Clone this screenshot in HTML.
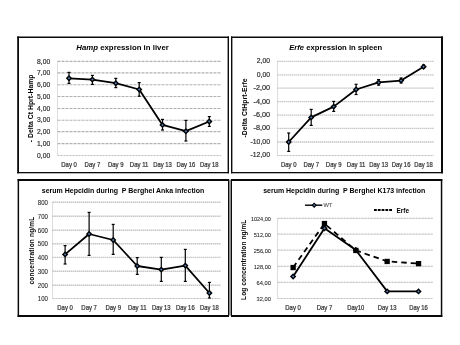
<!DOCTYPE html><html><head><meta charset="utf-8"><style>html,body{margin:0;padding:0;background:#fff;overflow:hidden}svg{display:block;will-change:transform}text{font-family:"Liberation Sans",sans-serif}</style></head><body>
<svg width="460" height="345" viewBox="0 0 460 345">
<rect width="460" height="345" fill="#fff"/>
<rect x="17.2" y="36.5" width="1.8" height="136.80" fill="#0a0a0a"/>
<rect x="227.6" y="36.5" width="1.4" height="136.80" fill="#0a0a0a"/>
<rect x="17.2" y="36.5" width="211.80" height="1.5" fill="#0a0a0a"/>
<rect x="17.2" y="172" width="211.80" height="1.3" fill="#0a0a0a"/>
<rect x="231" y="36.5" width="1.4" height="136.80" fill="#0a0a0a"/>
<rect x="441" y="36.5" width="2" height="136.80" fill="#0a0a0a"/>
<rect x="231" y="36.5" width="212.00" height="1.5" fill="#0a0a0a"/>
<rect x="231" y="172" width="212.00" height="1.3" fill="#0a0a0a"/>
<rect x="229" y="179.6" width="2" height="136" fill="#8e8e8e"/>
<rect x="17.6" y="179" width="1.5" height="138.00" fill="#0a0a0a"/>
<rect x="228" y="179" width="1" height="138.00" fill="#0a0a0a"/>
<rect x="17.6" y="179" width="211.40" height="2" fill="#0a0a0a"/>
<rect x="17.6" y="315" width="211.40" height="2" fill="#0a0a0a"/>
<rect x="231" y="179" width="1" height="138.00" fill="#0a0a0a"/>
<rect x="440.8" y="179" width="1.5" height="138.00" fill="#0a0a0a"/>
<rect x="231" y="179" width="211.30" height="2" fill="#0a0a0a"/>
<rect x="231" y="315" width="211.30" height="2" fill="#0a0a0a"/>
<line x1="57.5" y1="61.4" x2="221" y2="61.4" stroke="#b2b2b2" stroke-width="1.1" stroke-dasharray="3,1"/>
<line x1="57.5" y1="72.9" x2="221" y2="72.9" stroke="#b2b2b2" stroke-width="1.1" stroke-dasharray="3,1"/>
<line x1="57.5" y1="84.8" x2="221" y2="84.8" stroke="#b2b2b2" stroke-width="1.1" stroke-dasharray="3,1"/>
<line x1="57.5" y1="96.5" x2="221" y2="96.5" stroke="#b2b2b2" stroke-width="1.1" stroke-dasharray="3,1"/>
<line x1="57.5" y1="108.5" x2="221" y2="108.5" stroke="#b2b2b2" stroke-width="1.1" stroke-dasharray="3,1"/>
<line x1="57.5" y1="120.2" x2="221" y2="120.2" stroke="#b2b2b2" stroke-width="1.1" stroke-dasharray="3,1"/>
<line x1="57.5" y1="131.6" x2="221" y2="131.6" stroke="#b2b2b2" stroke-width="1.1" stroke-dasharray="3,1"/>
<line x1="57.5" y1="143.6" x2="221" y2="143.6" stroke="#b2b2b2" stroke-width="1.1" stroke-dasharray="3,1"/>
<line x1="57.5" y1="61.5" x2="57.5" y2="155.5" stroke="#bdbdbd" stroke-width="1" stroke-dasharray="1,1"/>
<line x1="57.5" y1="155.5" x2="221" y2="155.5" stroke="#bdbdbd" stroke-width="1" stroke-dasharray="2,1"/>
<text x="50.2" y="63.5" font-size="7" text-anchor="end" font-weight="normal" fill="#303030" stroke="#303030" stroke-width="0.2" textLength="13.1" lengthAdjust="spacingAndGlyphs" >8,00</text>
<text x="50.2" y="75.0" font-size="7" text-anchor="end" font-weight="normal" fill="#303030" stroke="#303030" stroke-width="0.2" textLength="13.1" lengthAdjust="spacingAndGlyphs" >7,00</text>
<text x="50.2" y="86.89999999999999" font-size="7" text-anchor="end" font-weight="normal" fill="#303030" stroke="#303030" stroke-width="0.2" textLength="13.1" lengthAdjust="spacingAndGlyphs" >6,00</text>
<text x="50.2" y="98.6" font-size="7" text-anchor="end" font-weight="normal" fill="#303030" stroke="#303030" stroke-width="0.2" textLength="13.1" lengthAdjust="spacingAndGlyphs" >5,00</text>
<text x="50.2" y="110.6" font-size="7" text-anchor="end" font-weight="normal" fill="#303030" stroke="#303030" stroke-width="0.2" textLength="13.1" lengthAdjust="spacingAndGlyphs" >4,00</text>
<text x="50.2" y="122.3" font-size="7" text-anchor="end" font-weight="normal" fill="#303030" stroke="#303030" stroke-width="0.2" textLength="13.1" lengthAdjust="spacingAndGlyphs" >3,00</text>
<text x="50.2" y="133.7" font-size="7" text-anchor="end" font-weight="normal" fill="#303030" stroke="#303030" stroke-width="0.2" textLength="13.1" lengthAdjust="spacingAndGlyphs" >2,00</text>
<text x="50.2" y="145.7" font-size="7" text-anchor="end" font-weight="normal" fill="#303030" stroke="#303030" stroke-width="0.2" textLength="13.1" lengthAdjust="spacingAndGlyphs" >1,00</text>
<text x="50.2" y="157.7" font-size="7" text-anchor="end" font-weight="normal" fill="#303030" stroke="#303030" stroke-width="0.2" textLength="13.1" lengthAdjust="spacingAndGlyphs" >0,00</text>
<text x="69.05" y="167" font-size="6.3" text-anchor="middle" font-weight="normal" fill="#303030" stroke="#303030" stroke-width="0.2" textLength="15.6" lengthAdjust="spacingAndGlyphs" >Day 0</text>
<text x="92.42" y="167" font-size="6.3" text-anchor="middle" font-weight="normal" fill="#303030" stroke="#303030" stroke-width="0.2" textLength="15.6" lengthAdjust="spacingAndGlyphs" >Day 7</text>
<text x="115.78999999999999" y="167" font-size="6.3" text-anchor="middle" font-weight="normal" fill="#303030" stroke="#303030" stroke-width="0.2" textLength="15.6" lengthAdjust="spacingAndGlyphs" >Day 9</text>
<text x="139.16" y="167" font-size="6.3" text-anchor="middle" font-weight="normal" fill="#303030" stroke="#303030" stroke-width="0.2" textLength="18.6" lengthAdjust="spacingAndGlyphs" >Day 11</text>
<text x="162.53" y="167" font-size="6.3" text-anchor="middle" font-weight="normal" fill="#303030" stroke="#303030" stroke-width="0.2" textLength="18.6" lengthAdjust="spacingAndGlyphs" >Day 13</text>
<text x="185.9" y="167" font-size="6.3" text-anchor="middle" font-weight="normal" fill="#303030" stroke="#303030" stroke-width="0.2" textLength="18.6" lengthAdjust="spacingAndGlyphs" >Day 16</text>
<text x="209.26999999999998" y="167" font-size="6.3" text-anchor="middle" font-weight="normal" fill="#303030" stroke="#303030" stroke-width="0.2" textLength="18.6" lengthAdjust="spacingAndGlyphs" >Day 18</text>
<line x1="69.0" y1="72.4" x2="69.0" y2="83.4" stroke="#000" stroke-width="1.2"/>
<line x1="67.5" y1="72.4" x2="70.5" y2="72.4" stroke="#000" stroke-width="1.2"/>
<line x1="67.5" y1="83.4" x2="70.5" y2="83.4" stroke="#000" stroke-width="1.2"/>
<line x1="92.4" y1="75.4" x2="92.4" y2="84.4" stroke="#000" stroke-width="1.2"/>
<line x1="90.9" y1="75.4" x2="93.9" y2="75.4" stroke="#000" stroke-width="1.2"/>
<line x1="90.9" y1="84.4" x2="93.9" y2="84.4" stroke="#000" stroke-width="1.2"/>
<line x1="115.8" y1="78.4" x2="115.8" y2="87.6" stroke="#000" stroke-width="1.2"/>
<line x1="114.3" y1="78.4" x2="117.3" y2="78.4" stroke="#000" stroke-width="1.2"/>
<line x1="114.3" y1="87.6" x2="117.3" y2="87.6" stroke="#000" stroke-width="1.2"/>
<line x1="139.2" y1="82.6" x2="139.2" y2="96.2" stroke="#000" stroke-width="1.2"/>
<line x1="137.7" y1="82.6" x2="140.7" y2="82.6" stroke="#000" stroke-width="1.2"/>
<line x1="137.7" y1="96.2" x2="140.7" y2="96.2" stroke="#000" stroke-width="1.2"/>
<line x1="162.5" y1="119.4" x2="162.5" y2="130" stroke="#000" stroke-width="1.2"/>
<line x1="161.0" y1="119.4" x2="164.0" y2="119.4" stroke="#000" stroke-width="1.2"/>
<line x1="161.0" y1="130" x2="164.0" y2="130" stroke="#000" stroke-width="1.2"/>
<line x1="185.9" y1="120.4" x2="185.9" y2="141" stroke="#000" stroke-width="1.2"/>
<line x1="184.4" y1="120.4" x2="187.4" y2="120.4" stroke="#000" stroke-width="1.2"/>
<line x1="184.4" y1="141" x2="187.4" y2="141" stroke="#000" stroke-width="1.2"/>
<line x1="209.3" y1="116.6" x2="209.3" y2="126.4" stroke="#000" stroke-width="1.2"/>
<line x1="207.8" y1="116.6" x2="210.8" y2="116.6" stroke="#000" stroke-width="1.2"/>
<line x1="207.8" y1="126.4" x2="210.8" y2="126.4" stroke="#000" stroke-width="1.2"/>
<polyline points="69.0,78.3 92.4,79.6 115.8,83.2 139.2,89.5 162.5,124.9 185.9,131.2 209.3,121.5" fill="none" stroke="#000" stroke-width="1.8" stroke-linejoin="round"/>
<path d="M65.8,78.3 L69.0,75.1 L72.2,78.3 L69.0,81.5 Z" fill="#000"/>
<path d="M67.8,78.3 L69.0,77.1 L70.2,78.3 L69.0,79.5 Z" fill="#4f81bd"/>
<path d="M89.2,79.6 L92.4,76.4 L95.6,79.6 L92.4,82.8 Z" fill="#000"/>
<path d="M91.2,79.6 L92.4,78.4 L93.6,79.6 L92.4,80.8 Z" fill="#4f81bd"/>
<path d="M112.6,83.2 L115.8,80.0 L119.0,83.2 L115.8,86.4 Z" fill="#000"/>
<path d="M114.6,83.2 L115.8,82.0 L117.0,83.2 L115.8,84.4 Z" fill="#4f81bd"/>
<path d="M136.0,89.5 L139.2,86.3 L142.4,89.5 L139.2,92.7 Z" fill="#000"/>
<path d="M138.0,89.5 L139.2,88.3 L140.4,89.5 L139.2,90.7 Z" fill="#4f81bd"/>
<path d="M159.3,124.9 L162.5,121.7 L165.7,124.9 L162.5,128.1 Z" fill="#000"/>
<path d="M161.3,124.9 L162.5,123.7 L163.7,124.9 L162.5,126.1 Z" fill="#4f81bd"/>
<path d="M182.7,131.2 L185.9,128.0 L189.1,131.2 L185.9,134.4 Z" fill="#000"/>
<path d="M184.7,131.2 L185.9,130.0 L187.1,131.2 L185.9,132.4 Z" fill="#4f81bd"/>
<path d="M206.1,121.5 L209.3,118.3 L212.5,121.5 L209.3,124.7 Z" fill="#000"/>
<path d="M208.1,121.5 L209.3,120.3 L210.5,121.5 L209.3,122.7 Z" fill="#4f81bd"/>
<text x="76.3" y="50" font-size="8.0" font-weight="bold" fill="#000" textLength="92.5" lengthAdjust="spacingAndGlyphs"><tspan font-style="italic">Hamp</tspan> expression in liver</text>
<text x="33.3" y="142.3" font-size="6.8" text-anchor="start" font-weight="bold" fill="#000" textLength="67.8" lengthAdjust="spacing" transform="rotate(-90 33.3 142.3)" >- Delta Ct Hprt-Hamp</text>
<line x1="277.5" y1="61.4" x2="434" y2="61.4" stroke="#c2c2c2" stroke-width="1.3" stroke-dasharray="1.4,0.6"/>
<line x1="277.5" y1="74.8" x2="434" y2="74.8" stroke="#c2c2c2" stroke-width="1.3" stroke-dasharray="1.4,0.6"/>
<line x1="277.5" y1="88.2" x2="434" y2="88.2" stroke="#c2c2c2" stroke-width="1.3" stroke-dasharray="1.4,0.6"/>
<line x1="277.5" y1="101.6" x2="434" y2="101.6" stroke="#c2c2c2" stroke-width="1.3" stroke-dasharray="1.4,0.6"/>
<line x1="277.5" y1="115.1" x2="434" y2="115.1" stroke="#c2c2c2" stroke-width="1.3" stroke-dasharray="1.4,0.6"/>
<line x1="277.5" y1="128.4" x2="434" y2="128.4" stroke="#c2c2c2" stroke-width="1.3" stroke-dasharray="1.4,0.6"/>
<line x1="277.5" y1="142" x2="434" y2="142" stroke="#c2c2c2" stroke-width="1.3" stroke-dasharray="1.4,0.6"/>
<line x1="277.5" y1="61.5" x2="277.5" y2="155.5" stroke="#bdbdbd" stroke-width="1" stroke-dasharray="1,1"/>
<line x1="277.5" y1="155.5" x2="434" y2="155.5" stroke="#bdbdbd" stroke-width="1" stroke-dasharray="2,1"/>
<text x="270" y="63.4" font-size="7" text-anchor="end" font-weight="normal" fill="#303030" stroke="#303030" stroke-width="0.2" textLength="13.2" lengthAdjust="spacingAndGlyphs" >2,00</text>
<text x="270" y="76.8" font-size="7" text-anchor="end" font-weight="normal" fill="#303030" stroke="#303030" stroke-width="0.2" textLength="13.2" lengthAdjust="spacingAndGlyphs" >0,00</text>
<text x="270" y="90.2" font-size="7" text-anchor="end" font-weight="normal" fill="#303030" stroke="#303030" stroke-width="0.2" textLength="16.5" lengthAdjust="spacingAndGlyphs" >-2,00</text>
<text x="270" y="103.6" font-size="7" text-anchor="end" font-weight="normal" fill="#303030" stroke="#303030" stroke-width="0.2" textLength="16.5" lengthAdjust="spacingAndGlyphs" >-4,00</text>
<text x="270" y="117.1" font-size="7" text-anchor="end" font-weight="normal" fill="#303030" stroke="#303030" stroke-width="0.2" textLength="16.5" lengthAdjust="spacingAndGlyphs" >-6,00</text>
<text x="270" y="130.4" font-size="7" text-anchor="end" font-weight="normal" fill="#303030" stroke="#303030" stroke-width="0.2" textLength="16.5" lengthAdjust="spacingAndGlyphs" >-8,00</text>
<text x="270" y="144.0" font-size="7" text-anchor="end" font-weight="normal" fill="#303030" stroke="#303030" stroke-width="0.2" textLength="19.5" lengthAdjust="spacingAndGlyphs" >-10,00</text>
<text x="270" y="157.4" font-size="7" text-anchor="end" font-weight="normal" fill="#303030" stroke="#303030" stroke-width="0.2" textLength="19.5" lengthAdjust="spacingAndGlyphs" >-12,00</text>
<text x="288.7" y="166.5" font-size="6.3" text-anchor="middle" font-weight="normal" fill="#303030" stroke="#303030" stroke-width="0.2" textLength="15.6" lengthAdjust="spacingAndGlyphs" >Day 0</text>
<text x="311.18" y="166.5" font-size="6.3" text-anchor="middle" font-weight="normal" fill="#303030" stroke="#303030" stroke-width="0.2" textLength="15.6" lengthAdjust="spacingAndGlyphs" >Day 7</text>
<text x="333.65999999999997" y="166.5" font-size="6.3" text-anchor="middle" font-weight="normal" fill="#303030" stroke="#303030" stroke-width="0.2" textLength="15.6" lengthAdjust="spacingAndGlyphs" >Day 9</text>
<text x="356.14" y="166.5" font-size="6.3" text-anchor="middle" font-weight="normal" fill="#303030" stroke="#303030" stroke-width="0.2" textLength="18.6" lengthAdjust="spacingAndGlyphs" >Day 11</text>
<text x="378.62" y="166.5" font-size="6.3" text-anchor="middle" font-weight="normal" fill="#303030" stroke="#303030" stroke-width="0.2" textLength="18.6" lengthAdjust="spacingAndGlyphs" >Day 13</text>
<text x="401.1" y="166.5" font-size="6.3" text-anchor="middle" font-weight="normal" fill="#303030" stroke="#303030" stroke-width="0.2" textLength="18.6" lengthAdjust="spacingAndGlyphs" >Day 16</text>
<text x="423.58" y="166.5" font-size="6.3" text-anchor="middle" font-weight="normal" fill="#303030" stroke="#303030" stroke-width="0.2" textLength="18.6" lengthAdjust="spacingAndGlyphs" >Day 18</text>
<line x1="288.7" y1="133" x2="288.7" y2="151.4" stroke="#000" stroke-width="1.2"/>
<line x1="287.2" y1="133" x2="290.2" y2="133" stroke="#000" stroke-width="1.2"/>
<line x1="287.2" y1="151.4" x2="290.2" y2="151.4" stroke="#000" stroke-width="1.2"/>
<line x1="311.2" y1="109.4" x2="311.2" y2="125.4" stroke="#000" stroke-width="1.2"/>
<line x1="309.7" y1="109.4" x2="312.7" y2="109.4" stroke="#000" stroke-width="1.2"/>
<line x1="309.7" y1="125.4" x2="312.7" y2="125.4" stroke="#000" stroke-width="1.2"/>
<line x1="333.7" y1="101.4" x2="333.7" y2="111.4" stroke="#000" stroke-width="1.2"/>
<line x1="332.2" y1="101.4" x2="335.2" y2="101.4" stroke="#000" stroke-width="1.2"/>
<line x1="332.2" y1="111.4" x2="335.2" y2="111.4" stroke="#000" stroke-width="1.2"/>
<line x1="356.1" y1="84.3" x2="356.1" y2="94.5" stroke="#000" stroke-width="1.2"/>
<line x1="354.6" y1="84.3" x2="357.6" y2="84.3" stroke="#000" stroke-width="1.2"/>
<line x1="354.6" y1="94.5" x2="357.6" y2="94.5" stroke="#000" stroke-width="1.2"/>
<line x1="378.6" y1="79.6" x2="378.6" y2="85.2" stroke="#000" stroke-width="1.2"/>
<line x1="377.1" y1="79.6" x2="380.1" y2="79.6" stroke="#000" stroke-width="1.2"/>
<line x1="377.1" y1="85.2" x2="380.1" y2="85.2" stroke="#000" stroke-width="1.2"/>
<line x1="401.1" y1="78" x2="401.1" y2="83" stroke="#000" stroke-width="1.2"/>
<line x1="399.6" y1="78" x2="402.6" y2="78" stroke="#000" stroke-width="1.2"/>
<line x1="399.6" y1="83" x2="402.6" y2="83" stroke="#000" stroke-width="1.2"/>
<line x1="423.6" y1="65" x2="423.6" y2="68" stroke="#000" stroke-width="1.2"/>
<line x1="422.1" y1="65" x2="425.1" y2="65" stroke="#000" stroke-width="1.2"/>
<line x1="422.1" y1="68" x2="425.1" y2="68" stroke="#000" stroke-width="1.2"/>
<polyline points="288.7,142.0 311.2,117.4 333.7,106.6 356.1,89.5 378.6,82.4 401.1,80.6 423.6,66.8" fill="none" stroke="#000" stroke-width="1.8" stroke-linejoin="round"/>
<path d="M285.5,142.0 L288.7,138.8 L291.9,142.0 L288.7,145.2 Z" fill="#000"/>
<path d="M287.5,142.0 L288.7,140.8 L289.9,142.0 L288.7,143.2 Z" fill="#4f81bd"/>
<path d="M308.0,117.4 L311.2,114.2 L314.4,117.4 L311.2,120.6 Z" fill="#000"/>
<path d="M310.0,117.4 L311.2,116.2 L312.4,117.4 L311.2,118.6 Z" fill="#4f81bd"/>
<path d="M330.5,106.6 L333.7,103.4 L336.9,106.6 L333.7,109.8 Z" fill="#000"/>
<path d="M332.5,106.6 L333.7,105.4 L334.9,106.6 L333.7,107.8 Z" fill="#4f81bd"/>
<path d="M352.9,89.5 L356.1,86.3 L359.3,89.5 L356.1,92.7 Z" fill="#000"/>
<path d="M354.9,89.5 L356.1,88.3 L357.3,89.5 L356.1,90.7 Z" fill="#4f81bd"/>
<path d="M375.4,82.4 L378.6,79.2 L381.8,82.4 L378.6,85.6 Z" fill="#000"/>
<path d="M377.4,82.4 L378.6,81.2 L379.8,82.4 L378.6,83.6 Z" fill="#4f81bd"/>
<path d="M397.9,80.6 L401.1,77.4 L404.3,80.6 L401.1,83.8 Z" fill="#000"/>
<path d="M399.9,80.6 L401.1,79.4 L402.3,80.6 L401.1,81.8 Z" fill="#4f81bd"/>
<path d="M420.4,66.8 L423.6,63.6 L426.8,66.8 L423.6,70.0 Z" fill="#000"/>
<path d="M422.4,66.8 L423.6,65.6 L424.8,66.8 L423.6,68.0 Z" fill="#4f81bd"/>
<text x="289.2" y="50" font-size="8.0" font-weight="bold" fill="#000" textLength="93" lengthAdjust="spacingAndGlyphs"><tspan font-style="italic">Erfe</tspan> expression in spleen</text>
<text x="247" y="137.6" font-size="6.8" text-anchor="start" font-weight="bold" fill="#000" textLength="59.2" lengthAdjust="spacing" transform="rotate(-90 247 137.6)" >-Delta CtHprt-Erfe</text>
<line x1="52.5" y1="202.3" x2="221" y2="202.3" stroke="#c2c2c2" stroke-width="1.4" stroke-dasharray="1.4,0.6"/>
<line x1="52.5" y1="216.3" x2="221" y2="216.3" stroke="#c2c2c2" stroke-width="1.4" stroke-dasharray="1.4,0.6"/>
<line x1="52.5" y1="230.3" x2="221" y2="230.3" stroke="#c2c2c2" stroke-width="1.4" stroke-dasharray="1.4,0.6"/>
<line x1="52.5" y1="243.8" x2="221" y2="243.8" stroke="#c2c2c2" stroke-width="1.4" stroke-dasharray="1.4,0.6"/>
<line x1="52.5" y1="257.4" x2="221" y2="257.4" stroke="#c2c2c2" stroke-width="1.4" stroke-dasharray="1.4,0.6"/>
<line x1="52.5" y1="271.3" x2="221" y2="271.3" stroke="#c2c2c2" stroke-width="1.4" stroke-dasharray="1.4,0.6"/>
<line x1="52.5" y1="285.2" x2="221" y2="285.2" stroke="#c2c2c2" stroke-width="1.4" stroke-dasharray="1.4,0.6"/>
<line x1="52.5" y1="202.5" x2="52.5" y2="298.5" stroke="#bdbdbd" stroke-width="1" stroke-dasharray="1,1"/>
<line x1="52.5" y1="298.5" x2="221" y2="298.5" stroke="#bdbdbd" stroke-width="1" stroke-dasharray="2,1"/>
<text x="47.9" y="204.70000000000002" font-size="6.3" text-anchor="end" font-weight="normal" fill="#262626" stroke="#262626" stroke-width="0.08" textLength="10.1" lengthAdjust="spacingAndGlyphs" >800</text>
<text x="47.9" y="218.70000000000002" font-size="6.3" text-anchor="end" font-weight="normal" fill="#262626" stroke="#262626" stroke-width="0.08" textLength="10.1" lengthAdjust="spacingAndGlyphs" >700</text>
<text x="47.9" y="232.70000000000002" font-size="6.3" text-anchor="end" font-weight="normal" fill="#262626" stroke="#262626" stroke-width="0.08" textLength="10.1" lengthAdjust="spacingAndGlyphs" >600</text>
<text x="47.9" y="246.20000000000002" font-size="6.3" text-anchor="end" font-weight="normal" fill="#262626" stroke="#262626" stroke-width="0.08" textLength="10.1" lengthAdjust="spacingAndGlyphs" >500</text>
<text x="47.9" y="259.79999999999995" font-size="6.3" text-anchor="end" font-weight="normal" fill="#262626" stroke="#262626" stroke-width="0.08" textLength="10.1" lengthAdjust="spacingAndGlyphs" >400</text>
<text x="47.9" y="273.7" font-size="6.3" text-anchor="end" font-weight="normal" fill="#262626" stroke="#262626" stroke-width="0.08" textLength="10.1" lengthAdjust="spacingAndGlyphs" >300</text>
<text x="47.9" y="287.59999999999997" font-size="6.3" text-anchor="end" font-weight="normal" fill="#262626" stroke="#262626" stroke-width="0.08" textLength="10.1" lengthAdjust="spacingAndGlyphs" >200</text>
<text x="47.9" y="300.9" font-size="6.3" text-anchor="end" font-weight="normal" fill="#262626" stroke="#262626" stroke-width="0.08" textLength="10.1" lengthAdjust="spacingAndGlyphs" >100</text>
<text x="65.1" y="309.6" font-size="6.3" text-anchor="middle" font-weight="normal" fill="#303030" stroke="#303030" stroke-width="0.2" textLength="15.6" lengthAdjust="spacingAndGlyphs" >Day 0</text>
<text x="89.14999999999999" y="309.6" font-size="6.3" text-anchor="middle" font-weight="normal" fill="#303030" stroke="#303030" stroke-width="0.2" textLength="15.6" lengthAdjust="spacingAndGlyphs" >Day 7</text>
<text x="113.19999999999999" y="309.6" font-size="6.3" text-anchor="middle" font-weight="normal" fill="#303030" stroke="#303030" stroke-width="0.2" textLength="15.6" lengthAdjust="spacingAndGlyphs" >Day 9</text>
<text x="137.25" y="309.6" font-size="6.3" text-anchor="middle" font-weight="normal" fill="#303030" stroke="#303030" stroke-width="0.2" textLength="18.6" lengthAdjust="spacingAndGlyphs" >Day 11</text>
<text x="161.3" y="309.6" font-size="6.3" text-anchor="middle" font-weight="normal" fill="#303030" stroke="#303030" stroke-width="0.2" textLength="18.6" lengthAdjust="spacingAndGlyphs" >Day 13</text>
<text x="185.35" y="309.6" font-size="6.3" text-anchor="middle" font-weight="normal" fill="#303030" stroke="#303030" stroke-width="0.2" textLength="18.6" lengthAdjust="spacingAndGlyphs" >Day 16</text>
<text x="209.4" y="309.6" font-size="6.3" text-anchor="middle" font-weight="normal" fill="#303030" stroke="#303030" stroke-width="0.2" textLength="18.6" lengthAdjust="spacingAndGlyphs" >Day 18</text>
<line x1="65.1" y1="245.6" x2="65.1" y2="264" stroke="#000" stroke-width="1.2"/>
<line x1="63.6" y1="245.6" x2="66.6" y2="245.6" stroke="#000" stroke-width="1.2"/>
<line x1="63.6" y1="264" x2="66.6" y2="264" stroke="#000" stroke-width="1.2"/>
<line x1="89.1" y1="212.4" x2="89.1" y2="255.4" stroke="#000" stroke-width="1.2"/>
<line x1="87.6" y1="212.4" x2="90.6" y2="212.4" stroke="#000" stroke-width="1.2"/>
<line x1="87.6" y1="255.4" x2="90.6" y2="255.4" stroke="#000" stroke-width="1.2"/>
<line x1="113.2" y1="224.4" x2="113.2" y2="254.4" stroke="#000" stroke-width="1.2"/>
<line x1="111.7" y1="224.4" x2="114.7" y2="224.4" stroke="#000" stroke-width="1.2"/>
<line x1="111.7" y1="254.4" x2="114.7" y2="254.4" stroke="#000" stroke-width="1.2"/>
<line x1="137.2" y1="257.6" x2="137.2" y2="274.4" stroke="#000" stroke-width="1.2"/>
<line x1="135.8" y1="257.6" x2="138.8" y2="257.6" stroke="#000" stroke-width="1.2"/>
<line x1="135.8" y1="274.4" x2="138.8" y2="274.4" stroke="#000" stroke-width="1.2"/>
<line x1="161.3" y1="257.4" x2="161.3" y2="281.4" stroke="#000" stroke-width="1.2"/>
<line x1="159.8" y1="257.4" x2="162.8" y2="257.4" stroke="#000" stroke-width="1.2"/>
<line x1="159.8" y1="281.4" x2="162.8" y2="281.4" stroke="#000" stroke-width="1.2"/>
<line x1="185.3" y1="249.4" x2="185.3" y2="281.4" stroke="#000" stroke-width="1.2"/>
<line x1="183.8" y1="249.4" x2="186.8" y2="249.4" stroke="#000" stroke-width="1.2"/>
<line x1="183.8" y1="281.4" x2="186.8" y2="281.4" stroke="#000" stroke-width="1.2"/>
<line x1="209.4" y1="282.4" x2="209.4" y2="298" stroke="#000" stroke-width="1.2"/>
<line x1="207.9" y1="282.4" x2="210.9" y2="282.4" stroke="#000" stroke-width="1.2"/>
<line x1="207.9" y1="298" x2="210.9" y2="298" stroke="#000" stroke-width="1.2"/>
<polyline points="65.1,254.4 89.1,234.0 113.2,240.0 137.2,266.0 161.3,269.6 185.3,265.6 209.4,293.0" fill="none" stroke="#000" stroke-width="1.8" stroke-linejoin="round"/>
<path d="M61.9,254.4 L65.1,251.2 L68.3,254.4 L65.1,257.6 Z" fill="#000"/>
<path d="M63.9,254.4 L65.1,253.2 L66.3,254.4 L65.1,255.6 Z" fill="#4f81bd"/>
<path d="M85.9,234.0 L89.1,230.8 L92.3,234.0 L89.1,237.2 Z" fill="#000"/>
<path d="M87.9,234.0 L89.1,232.8 L90.3,234.0 L89.1,235.2 Z" fill="#4f81bd"/>
<path d="M110.0,240.0 L113.2,236.8 L116.4,240.0 L113.2,243.2 Z" fill="#000"/>
<path d="M112.0,240.0 L113.2,238.8 L114.4,240.0 L113.2,241.2 Z" fill="#4f81bd"/>
<path d="M134.1,266.0 L137.2,262.8 L140.4,266.0 L137.2,269.2 Z" fill="#000"/>
<path d="M136.1,266.0 L137.2,264.8 L138.4,266.0 L137.2,267.2 Z" fill="#4f81bd"/>
<path d="M158.1,269.6 L161.3,266.4 L164.5,269.6 L161.3,272.8 Z" fill="#000"/>
<path d="M160.1,269.6 L161.3,268.4 L162.5,269.6 L161.3,270.8 Z" fill="#4f81bd"/>
<path d="M182.2,265.6 L185.3,262.4 L188.5,265.6 L185.3,268.8 Z" fill="#000"/>
<path d="M184.2,265.6 L185.3,264.4 L186.5,265.6 L185.3,266.8 Z" fill="#4f81bd"/>
<path d="M206.2,293.0 L209.4,289.8 L212.6,293.0 L209.4,296.2 Z" fill="#000"/>
<path d="M208.2,293.0 L209.4,291.8 L210.6,293.0 L209.4,294.2 Z" fill="#4f81bd"/>
<text x="41.8" y="193" font-size="8.0" text-anchor="start" font-weight="bold" fill="#000" textLength="162.4" lengthAdjust="spacingAndGlyphs" xml:space="preserve">serum Hepcidin during  P Berghei Anka infection</text>
<text x="34" y="284.6" font-size="6.5" text-anchor="start" font-weight="bold" fill="#000" textLength="67.9" lengthAdjust="spacing" transform="rotate(-90 34 284.6)" >concentration ng/mL</text>
<line x1="277.5" y1="218.4" x2="433" y2="218.4" stroke="#c4c4c4" stroke-width="1.3" stroke-dasharray="2.2,0.8"/>
<line x1="277.5" y1="234.1" x2="433" y2="234.1" stroke="#c4c4c4" stroke-width="1.3" stroke-dasharray="2.2,0.8"/>
<line x1="277.5" y1="250.1" x2="433" y2="250.1" stroke="#c4c4c4" stroke-width="1.3" stroke-dasharray="2.2,0.8"/>
<line x1="277.5" y1="266.3" x2="433" y2="266.3" stroke="#c4c4c4" stroke-width="1.3" stroke-dasharray="2.2,0.8"/>
<line x1="277.5" y1="282.4" x2="433" y2="282.4" stroke="#c4c4c4" stroke-width="1.3" stroke-dasharray="2.2,0.8"/>
<line x1="277.5" y1="218.5" x2="277.5" y2="298.5" stroke="#bdbdbd" stroke-width="1" stroke-dasharray="1,1"/>
<line x1="277.5" y1="298.5" x2="433" y2="298.5" stroke="#bdbdbd" stroke-width="1" stroke-dasharray="2,1"/>
<text x="270.9" y="220.8" font-size="6.1" text-anchor="end" font-weight="normal" fill="#262626" stroke="#262626" stroke-width="0.08" textLength="20" lengthAdjust="spacingAndGlyphs" >1024,00</text>
<text x="270.9" y="236.5" font-size="6.1" text-anchor="end" font-weight="normal" fill="#262626" stroke="#262626" stroke-width="0.08" textLength="17.2" lengthAdjust="spacingAndGlyphs" >512,00</text>
<text x="270.9" y="252.5" font-size="6.1" text-anchor="end" font-weight="normal" fill="#262626" stroke="#262626" stroke-width="0.08" textLength="17.2" lengthAdjust="spacingAndGlyphs" >256,00</text>
<text x="270.9" y="268.7" font-size="6.1" text-anchor="end" font-weight="normal" fill="#262626" stroke="#262626" stroke-width="0.08" textLength="17.2" lengthAdjust="spacingAndGlyphs" >128,00</text>
<text x="270.9" y="284.79999999999995" font-size="6.1" text-anchor="end" font-weight="normal" fill="#262626" stroke="#262626" stroke-width="0.08" textLength="14.3" lengthAdjust="spacingAndGlyphs" >64,00</text>
<text x="270.9" y="300.79999999999995" font-size="6.1" text-anchor="end" font-weight="normal" fill="#262626" stroke="#262626" stroke-width="0.08" textLength="14.3" lengthAdjust="spacingAndGlyphs" >32,00</text>
<text x="293.1" y="309.6" font-size="6.3" text-anchor="middle" font-weight="normal" fill="#303030" stroke="#303030" stroke-width="0.2" textLength="15.6" lengthAdjust="spacingAndGlyphs" >Day 0</text>
<text x="324.45000000000005" y="309.6" font-size="6.3" text-anchor="middle" font-weight="normal" fill="#303030" stroke="#303030" stroke-width="0.2" textLength="15.6" lengthAdjust="spacingAndGlyphs" >Day 7</text>
<text x="355.8" y="309.6" font-size="6.3" text-anchor="middle" font-weight="normal" fill="#303030" stroke="#303030" stroke-width="0.2" textLength="17" lengthAdjust="spacingAndGlyphs" >Day10</text>
<text x="387.15000000000003" y="309.6" font-size="6.3" text-anchor="middle" font-weight="normal" fill="#303030" stroke="#303030" stroke-width="0.2" textLength="18.6" lengthAdjust="spacingAndGlyphs" >Day 13</text>
<text x="418.5" y="309.6" font-size="6.3" text-anchor="middle" font-weight="normal" fill="#303030" stroke="#303030" stroke-width="0.2" textLength="18.6" lengthAdjust="spacingAndGlyphs" >Day 16</text>
<polyline points="293.1,276.5 324.5,228.3 355.8,250.0 387.2,291.4 418.5,291.4" fill="none" stroke="#000" stroke-width="1.8" stroke-linejoin="round"/>
<polyline points="293.1,267.5 324.5,223.6 355.8,250.4 387.2,261.4 418.5,263.6" fill="none" stroke="#000" stroke-width="1.8" stroke-linejoin="round" stroke-dasharray="5.5,4"/>
<path d="M289.9,276.5 L293.1,273.3 L296.3,276.5 L293.1,279.7 Z" fill="#000"/>
<path d="M291.9,276.5 L293.1,275.3 L294.3,276.5 L293.1,277.7 Z" fill="#4f81bd"/>
<path d="M321.3,228.3 L324.5,225.1 L327.7,228.3 L324.5,231.5 Z" fill="#000"/>
<path d="M323.3,228.3 L324.5,227.1 L325.7,228.3 L324.5,229.5 Z" fill="#4f81bd"/>
<path d="M352.6,250.0 L355.8,246.8 L359.0,250.0 L355.8,253.2 Z" fill="#000"/>
<path d="M354.6,250.0 L355.8,248.8 L357.0,250.0 L355.8,251.2 Z" fill="#4f81bd"/>
<path d="M384.0,291.4 L387.2,288.2 L390.4,291.4 L387.2,294.6 Z" fill="#000"/>
<path d="M386.0,291.4 L387.2,290.2 L388.4,291.4 L387.2,292.6 Z" fill="#4f81bd"/>
<path d="M415.3,291.4 L418.5,288.2 L421.7,291.4 L418.5,294.6 Z" fill="#000"/>
<path d="M417.3,291.4 L418.5,290.2 L419.7,291.4 L418.5,292.6 Z" fill="#4f81bd"/>
<rect x="290.5" y="264.9" width="5.3" height="5.3" fill="#000"/>
<rect x="321.8" y="220.9" width="5.3" height="5.3" fill="#000"/>
<rect x="353.2" y="247.8" width="5.3" height="5.3" fill="#000"/>
<rect x="384.5" y="258.8" width="5.3" height="5.3" fill="#000"/>
<rect x="415.9" y="261.0" width="5.3" height="5.3" fill="#000"/>
<text x="263.2" y="193" font-size="8.0" text-anchor="start" font-weight="bold" fill="#000" textLength="162" lengthAdjust="spacingAndGlyphs" xml:space="preserve">serum Hepcidin during  P Berghei K173 infection</text>
<text x="246.1" y="299.9" font-size="6.5" text-anchor="start" font-weight="bold" fill="#000" textLength="80.2" lengthAdjust="spacing" transform="rotate(-90 246.1 299.9)" >Log concentration ng/mL</text>
<line x1="305" y1="205.2" x2="322.3" y2="205.2" stroke="#000" stroke-width="1.4"/>
<path d="M311.4,205.2 L314.2,202.4 L317.0,205.2 L314.2,208.0 Z" fill="#000"/>
<path d="M313.1,205.2 L314.2,204.1 L315.3,205.2 L314.2,206.3 Z" fill="#4f81bd"/>
<text x="323.4" y="207.4" font-size="6" text-anchor="start" font-weight="normal" fill="#6a6a6a" stroke="#6a6a6a" stroke-width="0.2" textLength="9" lengthAdjust="spacingAndGlyphs" >WT</text>
<line x1="374" y1="210" x2="392.5" y2="210" stroke="#000" stroke-width="2" stroke-dasharray="2.8,1"/>
<text x="396.5" y="213.3" font-size="7" text-anchor="start" font-weight="bold" fill="#000" textLength="12.5" lengthAdjust="spacingAndGlyphs" >Erfe</text>
</svg></body></html>
